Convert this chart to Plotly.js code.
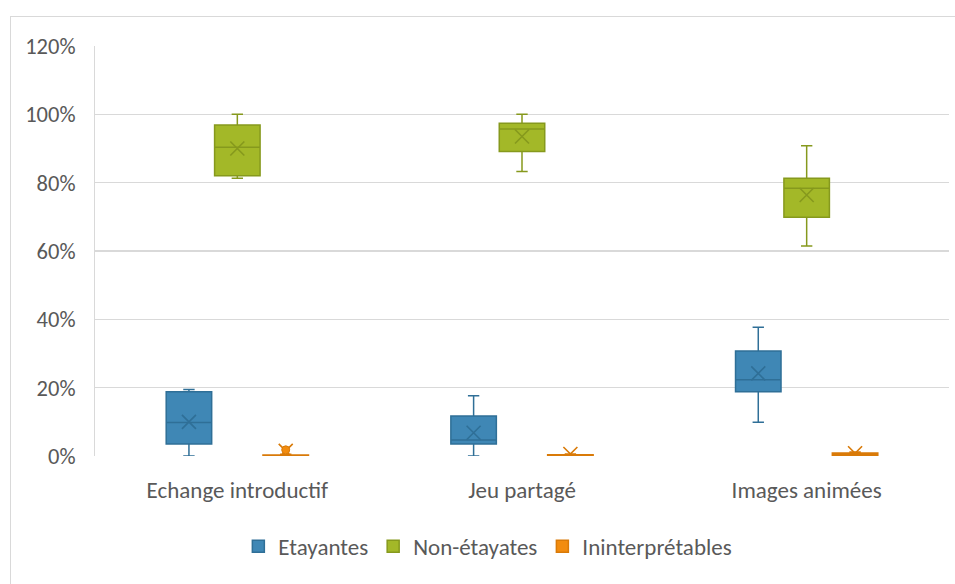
<!DOCTYPE html>
<html>
<head>
<meta charset="utf-8">
<script src="https://cdn.plot.ly/plotly-3.0.1.min.js"></script>
<style>
html,body{margin:0;padding:0;background:#fff;}
#wrap{position:relative;width:955px;height:584px;overflow:hidden;}
#frame{position:absolute;left:10px;top:16px;width:960px;height:600px;border-left:1px solid #d9d9d9;border-top:1px solid #d9d9d9;pointer-events:none;}
#chart{position:absolute;left:0;top:0;width:955px;height:584px;}
</style>
</head>
<body>
<div id="wrap"><div id="chart"></div><div id="frame"></div></div>
<script>
// ---- data ----
const categories = ['Echange introductif', 'Jeu partagé', 'Images animées'];
const seriesNames = ['Etayantes', 'Non-étayates', 'Ininterprétables'];

const etayLower  = [0.000, 0.000, 0.099];
const etayQ1     = [0.035, 0.035, 0.188];
const etayMedian = [0.098, 0.047, 0.223];
const etayQ3     = [0.188, 0.117, 0.307];
const etayUpper  = [0.195, 0.176, 0.377];
const etayMean   = [0.100, 0.068, 0.242];

const nonLower  = [0.813, 0.833, 0.615];
const nonQ1     = [0.820, 0.891, 0.699];
const nonMedian = [0.904, 0.957, 0.784];
const nonQ3     = [0.969, 0.974, 0.813];
const nonUpper  = [1.000, 1.000, 0.908];
const nonMean   = [0.900, 0.935, 0.764];

const ininLower  = [0.000, 0.000, 0.000];
const ininQ1     = [0.000, 0.000, 0.002];
const ininMedian = [0.000, 0.000, 0.005];
const ininQ3     = [0.003, 0.004, 0.009];
const ininUpper  = [0.005, 0.006, 0.012];
const ininMean   = [0.015, 0.006, 0.008];
const ininOutlierCat = ['Echange introductif'];
const ininOutlierVal = [0.018];

const yTickVals = [0, 0.2, 0.4, 0.6, 0.8, 1.0, 1.2];
const yTickText = ['0%', '20%', '40%', '60%', '80%', '100%', '120%'];

// ---- styles ----
const fills = ['#3F87B5', '#A3B828', '#F28C0F'];
const lines = ['#2F6F97', '#86991D', '#D97A08'];
const groups = ['a', 'b', 'c'];
const stats = [
  [etayLower, etayQ1, etayMedian, etayQ3, etayUpper, etayMean],
  [nonLower, nonQ1, nonMedian, nonQ3, nonUpper, nonMean],
  [ininLower, ininQ1, ininMedian, ininQ3, ininUpper, ininMean]
];

const traces = [];
stats.forEach((s, i) => {
  traces.push({
    type: 'box', name: seriesNames[i], x: categories,
    lowerfence: s[0], q1: s[1], median: s[2], q3: s[3], upperfence: s[4],
    offsetgroup: groups[i],
    fillcolor: fills[i],
    line: {color: lines[i], width: 1.5},
    whiskerwidth: 0.25,
    boxpoints: false,
    hoverinfo: 'y'
  });
});
stats.forEach((s, i) => {
  traces.push({
    type: 'scatter', mode: 'markers', x: categories, y: s[5],
    offsetgroup: groups[i], showlegend: false,
    marker: {symbol: 'x-thin-open', size: 14, line: {color: lines[i], width: 1.6}, color: lines[i]},
    hoverinfo: 'y'
  });
});
traces.push({
  type: 'scatter', mode: 'markers', x: ininOutlierCat, y: ininOutlierVal,
  offsetgroup: 'c', showlegend: false,
  marker: {symbol: 'circle', size: 8, color: fills[2], line: {color: lines[2], width: 1}},
  hoverinfo: 'y'
});

const fam = 'Carlito, Calibri, "Open Sans", sans-serif';

const layout = {
  width: 955, height: 584,
  margin: {l: 95, r: 6, t: 46, b: 128},
  paper_bgcolor: '#ffffff', plot_bgcolor: '#ffffff',
  font: {family: fam, color: '#595959', size: 22},
  showlegend: true,
  boxmode: 'group', boxgap: 0.49, boxgroupgap: 0.06,
  scattermode: 'group', scattergap: 0.49,
  xaxis: {
    type: 'category', showgrid: false, zeroline: false, showline: false,
    ticks: '', tickfont: {family: fam, size: 23, color: '#595959'},
    ticklabelstandoff: 18
  },
  yaxis: {
    range: [0, 1.2], tickvals: yTickVals, ticktext: yTickText,
    showgrid: true, gridcolor: '#D9D9D9', gridwidth: 1.5,
    zeroline: false, showline: true, linecolor: '#D9D9D9', linewidth: 1,
    ticks: '', tickfont: {family: fam, size: 22.5, color: '#595959'},
    ticklabelstandoff: 14
  },
  legend: {
    orientation: 'h', x: 0.46, xanchor: 'center', y: -0.22, yanchor: 'middle',
    font: {family: fam, size: 23, color: '#595959'},
    itemwidth: 30, traceorder: 'normal'
  }
};

Plotly.newPlot('chart', traces, layout, {displayModeBar: false, staticPlot: true});
</script>
</body>
</html>
